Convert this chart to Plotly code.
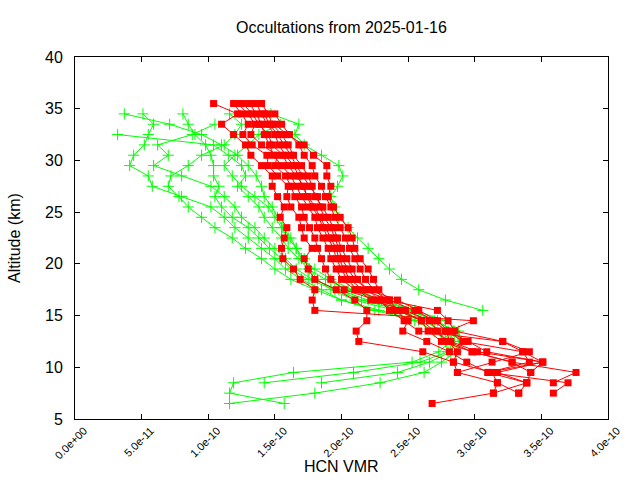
import plotly.graph_objects as go

# Altitude levels (km), top to bottom
ALT = [35.5, 34.5, 33.5, 32.5, 31.5, 30.5, 29.5, 28.5, 27.5, 26.5,
       25.5, 24.5, 23.5, 22.5, 21.5, 20.5, 19.5, 18.5, 17.5, 16.5,
       15.5, 14.5, 13.5, 12.5, 11.5, 10.5, 9.5, 8.5, 7.5, 6.5]

# HCN VMR profiles in units of 1e-10, aligned with ALT (None = no value)
red_p1 = [1.04, 1.22, 1.10, 1.19, 1.28, 1.32, 1.40, 1.48, 1.48, 1.52,
          1.57, 1.54, 1.59, 1.57, 1.55, 1.56, 1.64, 1.69, 1.80, 1.78,
          1.80, 2.99, 2.80, 2.95, 3.09, 3.51, 3.10, 3.70, 3.59]
red_p2 = [1.19, 1.25, 1.30, 1.26, 1.33, 1.44, 1.45, 1.52, 1.60, 1.59,
          1.62, 1.68, 1.70, 1.72, 1.78, 1.72, 1.75, 1.80, 1.96, 2.10,
          2.19, 2.19, 2.11, 2.13, 2.61, 2.84, 2.87, 3.17, 3.14, 2.68]
red_p3 = [1.22, 1.30, 1.35, 1.32, 1.40, 1.52, 1.50, 1.58, 1.62, 1.65,
          1.70, 1.72, 1.76, 1.80, 1.82, 1.85, 1.88, 1.92, 2.02, 2.26,
          2.40, 2.50, 2.46, 2.64, 2.81, 2.94, 3.10, 3.39, 3.33]
red_p4 = [1.31, 1.36, 1.40, 1.42, 1.46, 1.49, 1.55, 1.62, 1.66, 1.70,
          1.75, 1.80, 1.82, 1.86, 1.90, 1.92, 1.96, 2.00, 2.10, 2.30,
          2.45, 2.60, 2.65, 2.75, 2.98, 3.28, 3.76, 3.59]
red_p5 = [1.36, 1.40, 1.44, 1.50, 1.53, 1.58, 1.64, 1.68, 1.70, 1.75,
          1.80, 1.84, 1.88, 1.92, 1.96, 1.98, 2.02, 2.06, 2.16, 2.36,
          2.55, 2.70, 2.78, 2.82, 3.02, 3.51, 3.17, 3.39, 3.14]
red_p6 = [1.40, 1.45, 1.48, 1.55, 1.60, 1.64, 1.70, 1.75, 1.78, 1.80,
          1.86, 1.90, 1.94, 1.97, 2.00, 2.04, 2.08, 2.12, 2.20, 2.42,
          2.58, 2.72, 2.80, 2.91, 3.36, 3.41, 3.10]
red_p7 = [None, 1.50, 1.55, 1.61, 1.68, 1.72, 1.78, 1.80, 1.85, 1.88,
          1.92, 1.95, 1.99, 2.03, 2.06, 2.10, 2.14, 2.18, 2.24, 2.34,
          2.72, 2.80, 2.85, 3.21, 3.41, 3.13, 2.87]
red_p8 = [None, None, 1.50, 1.59, 1.72, 1.79, 1.89, 1.89, 1.92, 1.90,
          1.94, 1.99, 2.05, 2.08, 2.10, 2.14, 2.20, 2.24, 2.28, 2.36,
          2.42, 2.60, 2.70, 2.80, 2.98, 3.28, 3.42, 3.39]
red_p9 = [1.26, 1.33, 1.38, 1.45, 1.48, 1.56, 1.60, 1.66, 1.72, 1.74,
          1.78, 1.83, 1.86, 1.90, 1.94, 1.96, 2.00, 2.04, 2.12, 2.22,
          2.48, 2.66, 2.72, 2.80, 2.87, 2.84, 3.13, 3.17, 3.33]
red_p10 = [None, 1.42, 1.46, 1.52, 1.57, 1.62, 1.66, 1.71, 1.76, 1.82,
           1.84, 1.87, 1.92, 1.95, 1.98, 2.00, 2.05, 2.10, 2.20, 2.28,
           2.36, 2.47, 2.58, 3.21, 3.36, 3.51, 3.42]

green_p1 = [None, 0.37, 0.71, 0.95, 1.10, 1.22, 1.30, 1.36, 1.40, 1.42,
            1.48, 1.52, 1.56, 1.62, 1.66, 1.72, 1.76, 1.82, 1.92, 2.10,
            2.40, 2.62, 2.75, 2.82, 2.73, 2.53, 1.64, 1.19, 1.16, 1.57]
green_p2 = [None, 0.51, 0.59, 0.55, 0.52, 0.44, 0.41, 0.55, 0.58, 0.80,
            1.02, 1.12, 1.20, 1.30, 1.40, 1.50, 1.58, 1.70, 1.85, 2.00,
            2.25, 2.55, 2.70, 2.78, 2.80, 2.59, 2.09, 1.42]
green_p3 = [None, 0.81, 0.85, 0.90, 0.98, 1.02, 1.04, 1.04, 1.08, 1.05,
            1.10, 1.18, 1.30, 1.38, 1.46, 1.55, 1.62, 1.75, 1.95, 2.15,
            2.45, 2.68, 2.80, 2.85, 2.82, 2.66, 2.42, 1.85]
green_p4 = [None, None, None, 0.32, 1.04, 1.15, 1.25, 1.28, 1.22, 1.30,
            1.38, 1.42, 1.48, 1.55, 1.60, 1.68, 1.75, 1.88, 2.05, 2.30,
            2.55, 2.78, 2.88, 2.90, 2.86, 2.75, 2.62, 2.29, 1.80, 1.16]
green_p5 = [None, None, 1.05, 0.88, 0.62, 0.70, 0.59, 0.80, 1.02, 1.12,
            1.20, 1.25, 1.35, 1.42, 1.50, 1.58, 1.66, 1.78, 1.98, 2.20,
            2.50, 2.72, 2.84, 2.88]
green_p6 = [None, 1.47, 1.68, 1.65, 1.72, 1.85, 1.98, 2.01, 1.97, 1.92,
            1.95, 1.98, 2.05, 2.12, 2.20, 2.28, 2.36, 2.45, 2.58, 2.78,
            3.06]
green_p7 = [None, None, 1.54, 1.38, 1.30, 1.20, 1.12, 1.18, 1.25, 1.35,
            1.45, 1.50, 1.55, 1.60, 1.66, 1.70, 1.80, 1.92, 2.08, 2.28,
            2.52, 2.70, 2.85]
green_p8 = [None, 1.16, 1.25, 1.20, 1.12, 0.95, 0.85, 0.72, 0.70, 0.78,
            0.85, 0.95, 1.05, 1.18, 1.28, 1.40, 1.50, 1.62, 1.80, 2.00,
            2.28, 2.58]

SCALE = 1e-10
x_tick_vals = [0, 0.5e-10, 1.0e-10, 1.5e-10, 2.0e-10, 2.5e-10, 3.0e-10, 3.5e-10, 4.0e-10]
x_tick_text = ["0.0e+00", "5.0e-11", "1.0e-10", "1.5e-10", "2.0e-10",
               "2.5e-10", "3.0e-10", "3.5e-10", "4.0e-10"]
y_tick_vals = [5, 10, 15, 20, 25, 30, 35, 40]

RED = "#ff0000"
GREEN = "#00ff00"

fig = go.Figure()


def add_profile(vals, color, symbol, size, marker_kw):
    xs, ys = [], []
    for a, v in zip(ALT, vals):
        if v is None:
            continue
        xs.append(v * SCALE)
        ys.append(a)
    fig.add_trace(go.Scatter(
        x=xs, y=ys, mode="lines+markers",
        line=dict(color=color, width=1),
        marker=dict(symbol=symbol, size=size, color=color, **marker_kw),
        showlegend=False, hoverinfo="skip"))


for g in [green_p1, green_p2, green_p3, green_p4, green_p5, green_p6, green_p7, green_p8]:
    add_profile(g, GREEN, "cross-thin", 8, dict(line=dict(color=GREEN, width=1)))

for r in [red_p1, red_p2, red_p3, red_p4, red_p5, red_p6, red_p7, red_p8, red_p9, red_p10]:
    add_profile(r, RED, "square", 7, dict(line=dict(width=0)))

FONT = "Liberation Sans, Arial, sans-serif"

fig.update_layout(
    width=640, height=480,
    margin=dict(l=75, r=32, t=57, b=61),
    paper_bgcolor="white", plot_bgcolor="white",
    font=dict(family=FONT, color="black", size=13),
    xaxis=dict(range=[0, 4e-10], tickvals=x_tick_vals, ticktext=x_tick_text,
               tickangle=-45, tickfont=dict(size=11), ticklabelshift=9,
               ticks="inside", ticklen=5, tickcolor="black",
               showline=True, linecolor="black", linewidth=1, mirror="ticks",
               showgrid=False, zeroline=False),
    yaxis=dict(range=[5, 40], tickvals=y_tick_vals,
               tickfont=dict(size=16), ticklabelstandoff=8,
               ticks="inside", ticklen=5, tickcolor="black",
               showline=True, linecolor="black", linewidth=1, mirror="ticks",
               showgrid=False, zeroline=False),
    annotations=[
        dict(text="Occultations from 2025-01-16", xref="paper", yref="paper",
             x=0.5, y=1, yshift=30, xanchor="center", yanchor="middle",
             showarrow=False, font=dict(size=16)),
        dict(text="HCN VMR", xref="paper", yref="paper",
             x=0.5, y=0, yshift=-47, xanchor="center", yanchor="middle",
             showarrow=False, font=dict(size=16)),
        dict(text="Altitude (km)", xref="paper", yref="paper",
             x=0, y=0.5, xshift=-61, xanchor="center", yanchor="middle",
             textangle=-90, showarrow=False, font=dict(size=16)),
    ],
)

fig.write_html("out.html")
